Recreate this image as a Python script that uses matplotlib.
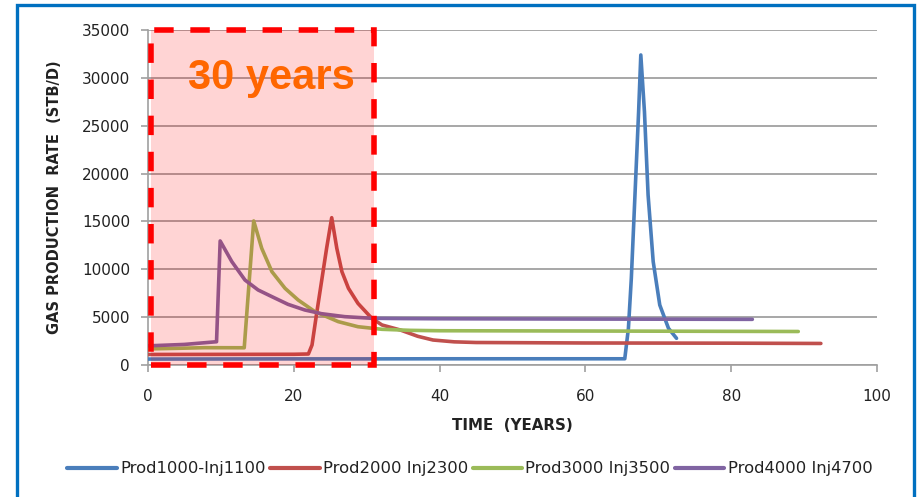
import matplotlib
matplotlib.use("Agg")
import matplotlib.pyplot as plt
from matplotlib.patches import Rectangle

# ---- data ----
blue_t = [0, 10, 20, 30, 40, 50, 60, 65.4, 65.9, 66.3, 66.8, 67.3, 67.6,
          68.1, 68.6, 69.3, 70.2, 71.4, 72.5]
blue_v = [620, 630, 640, 640, 650, 650, 650, 650, 3830, 9060, 17760, 26470, 32390,
          26470, 17760, 10800, 6270, 3830, 2790]

red_t = [0, 10, 20, 22.0, 22.5, 23.1, 23.8, 24.5, 25.2, 25.9, 26.6, 27.5, 28.8,
         30.7, 32.1, 34.6, 37.0, 39.1, 42.0, 45, 60, 80, 92.3]
red_v = [1100, 1110, 1120, 1150, 2090, 5220, 8700, 12190, 15390, 12190, 9750, 8010, 6440,
         4880, 4180, 3660, 3000, 2610, 2420, 2350, 2300, 2280, 2250]

green_t = [0, 5, 7.8, 13.2, 14.5, 15.6, 17.0, 18.8, 20.6, 22.9, 26.1, 28.8, 32.1,
           36.0, 40, 60, 89.2]
green_v = [1680, 1760, 1810, 1800, 15050, 12190, 9750, 8010, 6790, 5570, 4530, 4000, 3730,
           3620, 3580, 3550, 3500]

purple_t = [0, 5, 9.4, 9.9, 11.5, 13.3, 15.1, 17.0, 19.2, 21.5, 23.8, 27.0, 30.7,
            35, 40, 60, 82.9]
purple_v = [2000, 2150, 2430, 12960, 10800, 8880, 7840, 7140, 6340, 5750, 5360, 5050, 4880,
            4850, 4830, 4800, 4770]

series_names = ["Prod1000-Inj1100", "Prod2000 Inj2300", "Prod3000 Inj3500", "Prod4000 Inj4700"]
series_colors = ["#4A7EBB", "#C0504D", "#9BBB59", "#8064A2"]

box_x = [0.4, 31.0]
box_y = [0, 35000]

x_ticks = [0, 20, 40, 60, 80, 100]
y_ticks = [0, 5000, 10000, 15000, 20000, 25000, 30000, 35000]

# ---- figure ----
fig = plt.figure(figsize=(9.19, 4.97), dpi=100)
ax = fig.add_axes([148 / 919, 1 - 365 / 497, (877 - 148) / 919, (365 - 30) / 497])

data = [(blue_t, blue_v), (red_t, red_v), (green_t, green_v), (purple_t, purple_v)]
for (t, v), name, c in zip(data, series_names, series_colors):
    ax.plot(t, v, color=c, lw=2.6, label=name, solid_capstyle="round",
            solid_joinstyle="round", zorder=3)

# pink translucent overlay and dashed red border
ax.add_patch(Rectangle((box_x[0], box_y[0]), box_x[1] - box_x[0], box_y[1] - box_y[0],
                       facecolor="#FF0000", alpha=0.17, edgecolor="none", zorder=4))
ax.add_patch(Rectangle((box_x[0], box_y[0]), box_x[1] - box_x[0], box_y[1] - box_y[0],
                       facecolor="none", edgecolor="#FF0000", lw=4, ls=(0, (3.5, 3)),
                       zorder=5, clip_on=False))

ax.text(16.9, 29990, "30 years", color="#FF6600", fontsize=30, fontweight="bold",
        family=["Liberation Sans", "DejaVu Sans"], ha="center", va="center", zorder=6)

ax.set_xlim(0, 100)
ax.set_ylim(0, 35000)
ax.set_xticks(x_ticks)
ax.set_yticks(y_ticks)
ax.grid(axis="y", color="#A0A0A0", lw=1.3, zorder=1)
ax.set_axisbelow(True)
for s in ["top", "right"]:
    ax.spines[s].set_visible(False)
for s in ["left", "bottom"]:
    ax.spines[s].set_color("#A0A0A0")
    ax.spines[s].set_linewidth(1.2)
ax.tick_params(axis="both", direction="out", length=5, width=1.2, color="#A0A0A0",
               labelsize=11, labelcolor="#222222", pad=8)
ax.tick_params(axis="x", pad=12)

ax.set_xlabel("TIME  (YEARS)", fontsize=10.8, fontweight="bold",
              color="#222222", labelpad=10)
ax.set_ylabel("GAS PRODUCTION  RATE  (STB/D)", fontsize=10.5, fontweight="bold",
              color="#222222", labelpad=14)

leg = fig.legend(loc="center", bbox_to_anchor=(470 / 919, 1 - 469 / 497), ncol=4,
                 frameon=False, fontsize=11.8, handlelength=3.0, handletextpad=0.2,
                 columnspacing=0.3)
for line in leg.get_lines():
    line.set_linewidth(3)
for txt in leg.get_texts():
    txt.set_color("#222222")

# blue frame
fig.patches.append(Rectangle((17 / 919, -0.02), (914 - 17) / 919, 1 - 5 / 497 + 0.02,
                             transform=fig.transFigure, facecolor="none",
                             edgecolor="#0070C0", lw=2.4, zorder=0))

fig.savefig("out.png", dpi=100)
